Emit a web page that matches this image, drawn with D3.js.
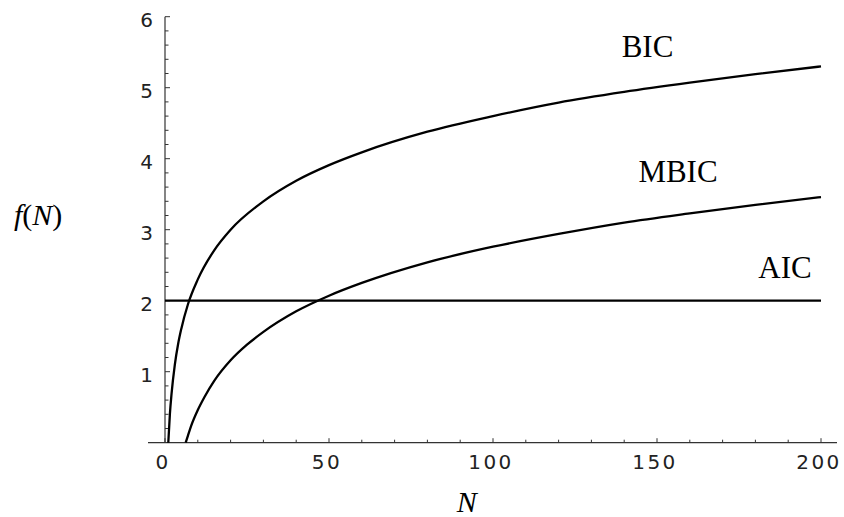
<!DOCTYPE html>
<html>
<head>
<meta charset="utf-8">
<script src="https://cdn.jsdelivr.net/npm/d3@7"></script>
<style>
  body { margin: 0; background: #fff; }
  svg { display: block; }
  .tick-label { font-family: "DejaVu Sans", sans-serif; font-size: 20px; fill: #222; }
  .curve-label, .axis-title { font-family: "Liberation Serif", "Times New Roman", serif; fill: #000; }
</style>
</head>
<body>
<div id="chart"></div>
<script>
// ====== f(N) penalty curves: AIC, BIC, MBIC ======

// values
var bicN   = [1, 1.5, 2, 3, 4, 5, 7, 10, 15, 20, 30, 40, 50, 60, 80, 100, 120, 140, 160, 180, 200];
var bicVal = [0, 0.41, 0.69, 1.10, 1.39, 1.61, 1.95, 2.30, 2.71, 3.00, 3.40, 3.69, 3.91, 4.09, 4.38, 4.60, 4.79, 4.94, 5.07, 5.19, 5.30];

var mbicN   = [6.3, 7, 8, 10, 12, 15, 20, 25, 30, 40, 50, 60, 80, 100, 120, 140, 160, 180, 200];
var mbicVal = [0, 0.10, 0.24, 0.46, 0.64, 0.87, 1.16, 1.38, 1.56, 1.85, 2.07, 2.25, 2.54, 2.76, 2.94, 3.10, 3.23, 3.35, 3.46];

var aicN   = [0, 200];
var aicVal = [2, 2];

var xTicks = [0, 50, 100, 150, 200];
var yTicks = [1, 2, 3, 4, 5, 6];

var width = 844, height = 517;

var svg = d3.select('#chart').append('svg')
    .attr('width', width)
    .attr('height', height);

var x = d3.scaleLinear().domain([0, 200]).range([165, 821]);
var y = d3.scaleLinear().domain([0, 6]).range([442.7, 16.7]);

// Axes (Mathematica style: ticks pointing inward)
var axisColor = '#333';

svg.append('line')
    .attr('x1', 148).attr('x2', 837)
    .attr('y1', y(0)).attr('y2', y(0))
    .attr('stroke', axisColor).attr('stroke-width', 1.2);

svg.append('line')
    .attr('x1', x(0)).attr('x2', x(0))
    .attr('y1', y(0)).attr('y2', y(6))
    .attr('stroke', axisColor).attr('stroke-width', 1.2);

// x ticks
var xMinor = d3.range(0, 201, 10);
svg.selectAll('.xtick')
    .data(xMinor)
  .enter().append('line')
    .attr('class', 'xtick')
    .attr('x1', function(d) { return x(d); })
    .attr('x2', function(d) { return x(d); })
    .attr('y1', y(0))
    .attr('y2', function(d) { return y(0) - (d % 50 === 0 ? 4.5 : 3); })
    .attr('stroke', axisColor).attr('stroke-width', 1);

svg.selectAll('.xlabel')
    .data(xTicks)
  .enter().append('text')
    .attr('class', 'tick-label')
    .attr('x', function(d) { return x(d) - 2; })
    .attr('y', 469)
    .attr('text-anchor', 'middle')
    .style('letter-spacing', '2.5px')
    .text(function(d) { return d; });

// y ticks
var yMinor = d3.range(1, 31).map(function(i) { return i / 5; });
svg.selectAll('.ytick')
    .data(yMinor)
  .enter().append('line')
    .attr('class', 'ytick')
    .attr('x1', x(0))
    .attr('x2', function(d) { return x(0) + (Math.abs(d - Math.round(d)) < 1e-6 ? 5 : 3.5); })
    .attr('y1', function(d) { return y(d); })
    .attr('y2', function(d) { return y(d); })
    .attr('stroke', axisColor).attr('stroke-width', 1);

svg.selectAll('.ylabel')
    .data(yTicks)
  .enter().append('text')
    .attr('class', 'tick-label')
    .attr('x', 153)
    .attr('y', function(d) { return y(d) + 10; })
    .attr('text-anchor', 'end')
    .text(function(d) { return d; });

// Curves
var line = d3.line()
    .x(function(d) { return x(d[0]); })
    .y(function(d) { return y(d[1]); })
    .curve(d3.curveMonotoneX);

function pairs(ns, vals) {
    return ns.map(function(n, i) { return [n, vals[i]]; });
}

[pairs(bicN, bicVal), pairs(mbicN, mbicVal), pairs(aicN, aicVal)].forEach(function(data) {
    svg.append('path')
        .datum(data)
        .attr('d', line)
        .attr('fill', 'none')
        .attr('stroke', '#000')
        .attr('stroke-width', 2.3);
});

// Curve labels
var labels = [
    { text: 'BIC',  x: 647.5, y: 56.5 },
    { text: 'MBIC', x: 678,   y: 181.5 },
    { text: 'AIC',  x: 785,   y: 278.3 }
];
svg.selectAll('.curve-label')
    .data(labels)
  .enter().append('text')
    .attr('class', 'curve-label')
    .attr('x', function(d) { return d.x; })
    .attr('y', function(d) { return d.y; })
    .attr('text-anchor', 'middle')
    .style('font-size', '31px')
    .text(function(d) { return d.text; });

// Axis titles
svg.append('text')
    .attr('class', 'axis-title')
    .attr('x', 466.7)
    .attr('y', 511.5)
    .attr('text-anchor', 'middle')
    .style('font-size', '30px')
    .style('font-style', 'italic')
    .text('N');

var fTitle = svg.append('text')
    .attr('class', 'axis-title')
    .attr('x', 14)
    .attr('y', 225)
    .style('font-size', '30px');
fTitle.append('tspan').style('font-style', 'italic').text('f');
fTitle.append('tspan').text('(');
fTitle.append('tspan').style('font-style', 'italic').text('N');
fTitle.append('tspan').text(')');
</script>
</body>
</html>
